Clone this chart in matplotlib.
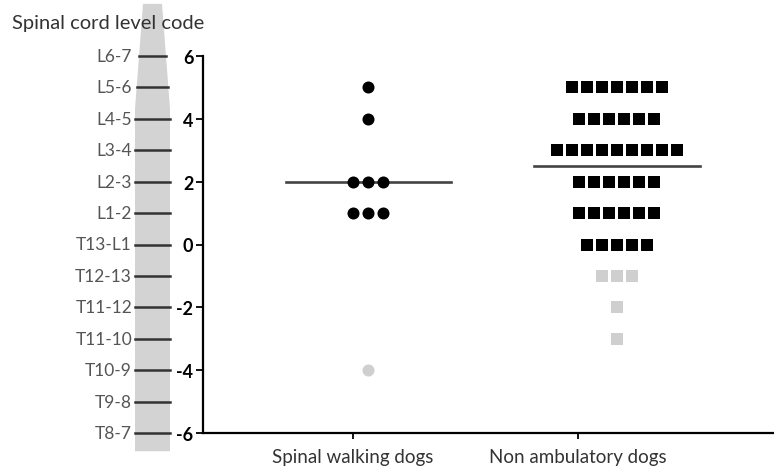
import numpy as np
import matplotlib.pyplot as plt
from matplotlib.patches import Polygon

plt.rcParams['font.family'] = ['Lato', 'DejaVu Sans']

# Data
groups = ["Spinal walking dogs", "Non ambulatory dogs"]
walking_levels = [5, 4, 2, 1, -4]
walking_counts = [1, 1, 3, 3, 1]
walking_grey = [False, False, False, False, True]
nonamb_levels = [5, 4, 3, 2, 1, 0, -1, -2, -3]
nonamb_counts = [7, 6, 9, 6, 6, 5, 3, 1, 1]
nonamb_grey = [False, False, False, False, False, False, True, True, True]

level_codes = ["L6-7", "L5-6", "L4-5", "L3-4", "L2-3", "L1-2", "T13-L1",
               "T12-13", "T11-12", "T11-10", "T10-9", "T9-8", "T8-7"]
level_values = [6, 5, 4, 3, 2, 1, 0, -1, -2, -3, -4, -5, -6]

yticks = [6, 4, 2, 0, -2, -4, -6]

# group centres of the dot columns (slightly right of the tick labels, as in the original)
tick_pos = [1, 2]
col_pos = [1.067, 2.173]
step = 0.0667
black = "#000000"
grey = "#cfcfcf"

W, H = 774, 477
fig = plt.figure(figsize=(W / 100, H / 100), dpi=100)
ax = fig.add_axes([203 / W, (H - 434) / H, (W - 203) / W, (434 - 57) / H])


def draw_column(x0, levels, counts, greys, marker, size):
    values = []
    for lev, n, g in zip(levels, counts, greys):
        xs = x0 + (np.arange(n) - (n - 1) / 2) * step
        ax.scatter(xs, [lev] * n, marker=marker, s=size, color=grey if g else black,
                   linewidths=0, zorder=3, clip_on=False)
        values += [lev] * n
    med = np.median(values)
    ax.plot([x0 - 0.367, x0 + 0.367], [med, med], color="#444444", lw=1.9, zorder=2)


draw_column(col_pos[0], walking_levels, walking_counts, walking_grey, "o", 75)
draw_column(col_pos[1], nonamb_levels, nonamb_counts, nonamb_grey, "s", 70)

ax.set_xlim(0.333, 2.871)
ax.set_ylim(-6, 6)
ax.set_yticks(yticks)
ax.set_yticklabels([str(v) for v in yticks], fontweight="bold", fontsize=13)
ax.set_xticks(tick_pos)
ax.set_xticklabels(groups, fontsize=13.5, color="#333333")
ax.tick_params(axis="y", length=5, width=1.3, pad=2)
ax.tick_params(axis="x", length=4, width=1.3, pad=7)
for s in ["top", "right"]:
    ax.spines[s].set_visible(False)
for s in ["left", "bottom"]:
    ax.spines[s].set_linewidth(1.6)

# spinal cord diagram on the left, sharing the y scale
deco = fig.add_axes([120 / W, (H - 434) / H, 60 / W, (434 - 57) / H], sharey=ax)
deco.set_xlim(0, 1)
deco.axis("off")
px = lambda p: (p - 120) / 60
top_y, taper_y, bot_y = 7.66, 4.32, -6.58
shape = Polygon([(px(143), top_y), (px(162), top_y), (px(170), taper_y), (px(170), bot_y),
                 (px(135), bot_y), (px(135), taper_y)],
                closed=True, facecolor="#d3d3d3", edgecolor="none", clip_on=False)
deco.add_patch(shape)
for code, v in zip(level_codes, level_values):
    xl = np.interp(v, [taper_y, top_y], [px(135), px(143)])
    xr = np.interp(v, [taper_y, top_y], [px(170), px(162)])
    deco.plot([xl, xr], [v, v], color="#333333", lw=1.8, clip_on=False)
    deco.text(px(132), v, code, ha="right", va="center", fontsize=12.5, color="#555555")

fig.text(12 / W, 1 - 23 / H, "Spinal cord level code", fontsize=14.5, color="#333333",
         ha="left", va="center")

fig.savefig("out.png", dpi=100)
